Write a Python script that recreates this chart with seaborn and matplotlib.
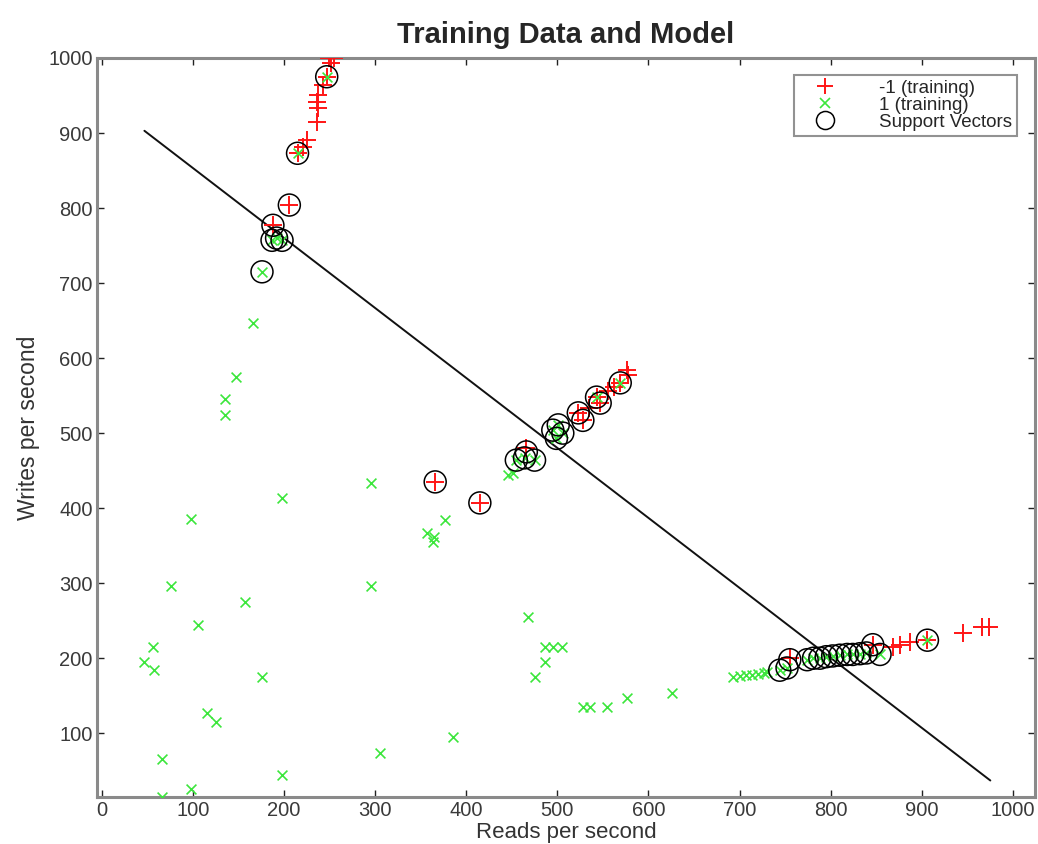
import matplotlib
matplotlib.use("Agg")
import matplotlib.pyplot as plt
from matplotlib.lines import Line2D
import seaborn as sns
import numpy as np

# ---- data ----
neg_x = [250, 255, 252, 247, 243, 237, 236, 237, 236, 225, 221, 215, 206, 188,
         366, 415, 466, 523, 528, 535, 543, 547, 556, 562, 569, 576, 577,
         755, 846, 868, 876, 887, 906, 945, 966, 973]
neg_y = [1000, 1000, 994, 975, 964, 951, 941, 933, 915, 891, 881, 873, 804, 777,
         435, 407, 480, 527, 517, 533, 548, 540, 556, 562, 567, 584, 577,
         200, 218, 215, 217, 221, 224, 233, 241, 241]

pos_x = [247, 215, 187, 198, 192, 176, 166,
         147, 135, 135, 198, 98, 76, 157, 106, 56, 47, 57, 176, 116, 126, 66, 198, 98, 66,
         296, 296, 468, 486, 495, 505, 486, 476, 528, 536, 554, 576, 626, 386, 305,
         377, 357, 365, 364,
         446, 451, 455, 464, 475, 495, 501, 506, 499, 543, 569,
         693, 700, 707, 713, 720, 727, 730, 744, 752, 774, 781, 788, 795, 802, 810,
         818, 824, 832, 839, 854, 906]
pos_y = [975, 873, 757, 757, 760, 715, 647,
         575, 545, 524, 413, 385, 296, 275, 244, 215, 195, 184, 175, 127, 115, 65, 44, 25, 15,
         433, 296, 255, 215, 215, 215, 195, 175, 135, 135, 135, 147, 153, 95, 73,
         384, 367, 362, 355,
         444, 447, 464, 467, 464, 504, 511, 500, 493, 548, 567,
         175, 176, 177, 178, 179, 180, 181, 184, 187, 198, 200, 200, 202, 203, 204,
         205, 205, 206, 207, 205, 224]

sv_x = [247, 215, 206, 188, 187, 198, 192, 176,
        366, 415, 455, 464, 475, 466, 495, 501, 506, 499, 523, 528, 543, 547, 569,
        744, 752, 755, 774, 781, 788, 795, 802, 810, 818, 824, 832, 839, 846, 854, 906]
sv_y = [975, 873, 804, 777, 757, 757, 760, 715,
        435, 407, 464, 467, 464, 475, 504, 511, 500, 493, 527, 517, 548, 540, 567,
        184, 187, 198, 198, 200, 200, 202, 203, 204, 205, 205, 206, 207, 218, 205, 224]

line_x = [47, 975]
line_y = [903, 37]

x_ticks = list(range(0, 1001, 100))
y_ticks = list(range(100, 1001, 100))

legend_labels = ['-1 (training)', '1 (training)', 'Support Vectors']

RED = '#ff1515'
GREEN = '#3ce63c'

# ---- style ----
sns.set_theme(style="white")
plt.rcParams['font.family'] = ['Liberation Sans', 'DejaVu Sans']

fig = plt.figure(figsize=(10.38, 8.44), dpi=100)
ax = fig.add_axes([97/1038, 1-797/844, (1035-97)/1038, (797-58)/844])

sns.scatterplot(x=neg_x, y=neg_y, marker='+', s=150, color=RED,
                linewidth=1.4, ax=ax, zorder=3, legend=False)
sns.scatterplot(x=pos_x, y=pos_y, marker='x', s=50, color=GREEN,
                linewidth=1.2, ax=ax, zorder=3, legend=False)
sns.scatterplot(x=sv_x, y=sv_y, marker='o', s=250, facecolor='none',
                edgecolor='black', linewidth=1.1, ax=ax, zorder=4, legend=False)
sns.lineplot(x=line_x, y=line_y, sort=False, color='#111111', linewidth=1.4,
             ax=ax, zorder=2)

ax.set_xlim(-5, 1024)
ax.set_ylim(15, 1000)
ax.set_xticks(x_ticks)
ax.set_yticks(y_ticks)
ax.tick_params(direction='in', length=5, width=1, colors='#222222',
               labelsize=14.5, top=True, right=True, bottom=True, left=True,
               labelcolor='#3a3a3a', pad=3)
for sp in ax.spines.values():
    sp.set_color('#8a8a8a')
    sp.set_linewidth(2.2)
    sp.set_visible(True)

ax.set_title('Training Data and Model', fontsize=21, fontweight='bold', pad=11)
ax.set_xlabel('Reads per second', fontsize=16, color='#333333', labelpad=1)
ax.set_ylabel('Writes per second', fontsize=16.5, color='#333333', labelpad=6)

handles = [
    Line2D([], [], linestyle='none', marker='+', markersize=12, color=RED, markeredgewidth=1.4),
    Line2D([], [], linestyle='none', marker='x', markersize=7, color=GREEN, markeredgewidth=1.2),
    Line2D([], [], linestyle='none', marker='o', markersize=13, markerfacecolor='none',
           markeredgecolor='black', markeredgewidth=1.1),
]
leg = ax.legend(handles, legend_labels, loc='upper right', bbox_to_anchor=(0.981, 0.977),
                fontsize=13.5, frameon=True, fancybox=False, labelspacing=0.0,
                handletextpad=1.5, borderpad=0.25, handlelength=2.8, borderaxespad=0)
leg.get_frame().set_edgecolor('#777777')
leg.get_frame().set_linewidth(1.5)

fig.savefig('out.png', dpi=100)
